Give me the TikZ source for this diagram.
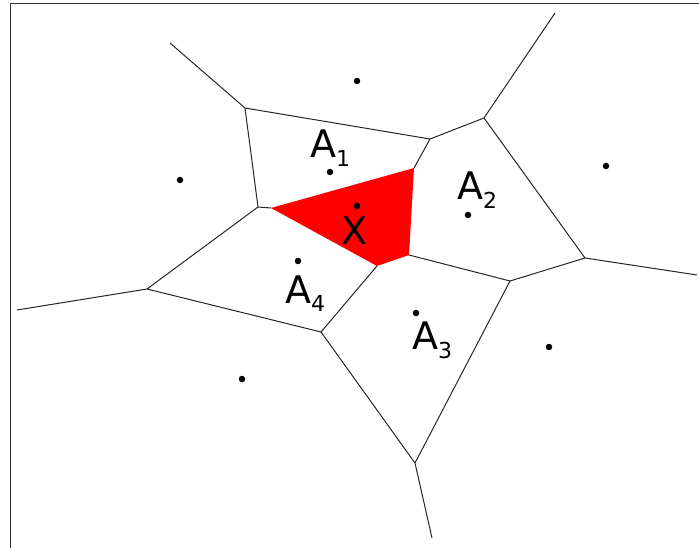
\documentclass[tikz,border=0pt]{standalone}
\usepackage{fontspec}
\setmainfont{DejaVu Sans}
\usetikzlibrary{positioning}
\newcommand{\cellname}[2]{#1\raisebox{-9pt}{\fontsize{22}{22}\selectfont #2}}

\begin{document}
\begin{tikzpicture}[x=1pt, y=-1pt,
    edge/.style={draw=black!85, line width=1pt},
    site/.style={circle, fill=black, inner sep=0pt, minimum size=6.5pt},
    lbl/.style={anchor=base west, inner sep=0pt, font=\fontsize{38}{38}\selectfont}]
    \useasboundingbox (0,0) rectangle (699,548);
    \draw[black!80, line width=1.6pt] (10.5,560) -- (10.5,3.5) -- (710,3.5);
    % vertices of the cells
    \coordinate (v1) at (245,108);
    \coordinate (v2) at (430,139);
    \coordinate (v3) at (484,118);
    \coordinate (v4) at (585,258);
    \coordinate (v5) at (510,281);
    \coordinate (v6) at (415,463);
    \coordinate (v7) at (321,332);
    \coordinate (v8) at (147,289);
    \coordinate (v9) at (258,207);
    % corners of the cell of X
    \coordinate (r1) at (271,208);
    \coordinate (r2) at (414,168);
    \coordinate (r3) at (409,255);
    \coordinate (r4) at (377,266);
    % open ends
    \coordinate (e1) at (170,43);
    \coordinate (e2) at (555,13);
    \coordinate (e3) at (697,275);
    \coordinate (e4) at (432,538);
    \coordinate (e5) at (17,310);
    \fill[red] (r1) -- (r2) -- (r3) -- (r4) -- cycle;
    \draw[edge] (v9) -- (r1) (r2) -- (v2) (r3) -- (v5) (r4) -- (v7);
    \draw[edge] (e1) -- (v1) -- (v9) (v1) -- (v2) -- (v3) -- (e2);
    \draw[edge] (v3) -- (v4) -- (e3) (v4) -- (v5) -- (v6) -- (e4);
    \draw[edge] (v6) -- (v7) -- (v8) -- (e5) (v8) -- (v9);
    % sites
    \node[site] (s1) at (357,81) {};
    \node[site] (s2) at (180,180) {};
    \node[site] (a1) at (330,172) {};
    \node[site] (s3) at (606,166) {};
    \node[site] (a2) at (468,215) {};
    \node[site] (x) at (357,206) {};
    \node[site] (a4) at (298,261) {};
    \node[site] (a3) at (416,313) {};
    \node[site] (s4) at (549,347) {};
    \node[site] (s5) at (242,379) {};
    \node[lbl] (la1) at (310,158) {\cellname{A}{1}};
    \node[lbl] (la2) at (457,200) {\cellname{A}{2}};
    \node[lbl] (la3) at (412,349) {\cellname{A}{3}};
    \node[lbl] (la4) at (285,303) {\cellname{A}{4}};
    \node[lbl] (lx) at (341,245) {X};
\end{tikzpicture}
\end{document}
